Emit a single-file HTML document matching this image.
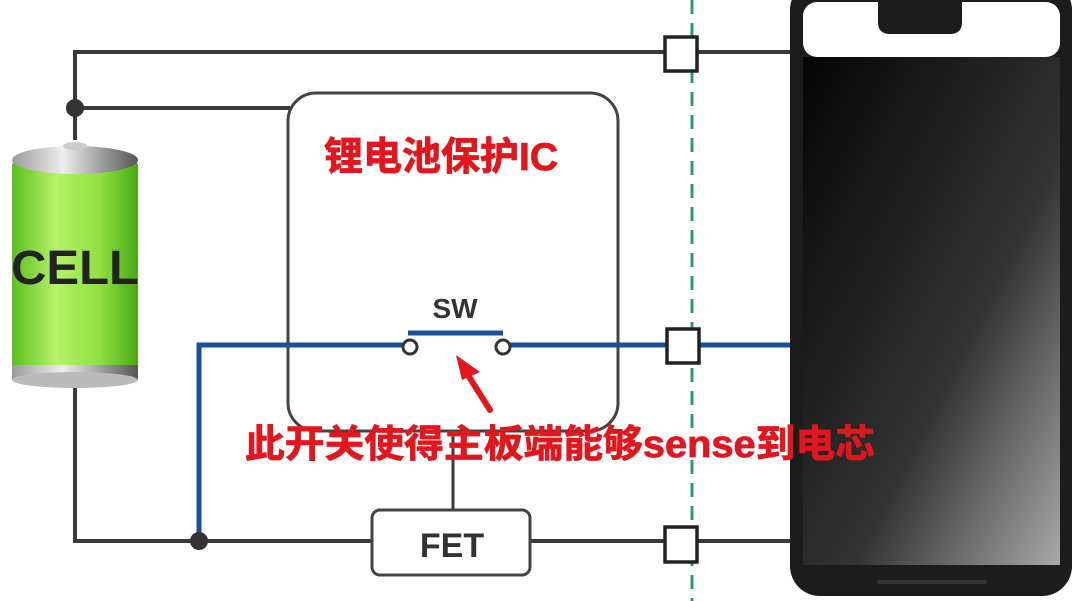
<!DOCTYPE html>
<html><head><meta charset="utf-8"><style>
html,body{margin:0;padding:0;background:#fff;}
body{width:1080px;height:601px;overflow:hidden;position:relative;font-family:"Liberation Sans","Noto Sans CJK SC",sans-serif;}
</style></head><body>
<svg width="1080" height="601" viewBox="0 0 1080 601" style="position:absolute;left:0;top:0">
<defs>
<linearGradient id="scr" x1="0" y1="0" x2="1" y2="1">
<stop offset="0" stop-color="#050505"/><stop offset="0.6" stop-color="#333"/><stop offset="1" stop-color="#a8a8a8"/>
</linearGradient>
<linearGradient id="bat" x1="0" y1="0" x2="1" y2="0">
<stop offset="0" stop-color="#5cbf1e"/><stop offset="0.35" stop-color="#b6f26a"/><stop offset="0.7" stop-color="#8fe040"/><stop offset="1" stop-color="#4aa818"/>
</linearGradient>
<linearGradient id="cap" x1="0" y1="0" x2="1" y2="0">
<stop offset="0" stop-color="#9a9a9a"/><stop offset="0.4" stop-color="#eee"/><stop offset="1" stop-color="#555"/>
</linearGradient>
</defs>
<line x1="692" y1="0" x2="692" y2="601" stroke="#2f9a6a" stroke-width="3" stroke-dasharray="14,9"/>
<g stroke="#3a3a3a" stroke-width="4" fill="none">
<polyline points="75,140 75,52 790,52"/>
<line x1="75" y1="108" x2="290" y2="108"/>
<polyline points="75,385 75,541 372,541"/>
<line x1="530" y1="541" x2="790" y2="541"/>
<line x1="453" y1="430" x2="453" y2="510" stroke-width="3"/>
</g>
<circle cx="75" cy="108" r="9" fill="#333"/>
<rect x="288" y="93" width="330" height="338" rx="28" fill="none" stroke="#444" stroke-width="3"/>
<g stroke="#1a4f9c" stroke-width="5" fill="none">
<polyline points="199,541 199,345 403,345"/>
<line x1="510" y1="345" x2="790" y2="345"/>
<line x1="408" y1="333" x2="503" y2="333"/>
</g>
<circle cx="410" cy="347" r="7" fill="#fff" stroke="#333" stroke-width="3"/>
<circle cx="503" cy="347" r="7" fill="#fff" stroke="#333" stroke-width="3"/>
<circle cx="199" cy="541" r="9" fill="#333"/>
<text x="455" y="318" text-anchor="middle" font-size="28" font-weight="bold" fill="#333">SW</text>
<rect x="372" y="510" width="158" height="65" rx="8" fill="#fff" stroke="#444" stroke-width="3"/>
<text x="452" y="557" text-anchor="middle" font-size="34" font-weight="bold" fill="#333">FET</text>
<g fill="#fff" stroke="#222" stroke-width="3.5">
<rect x="665" y="37" width="32" height="34"/>
<rect x="667" y="329" width="32" height="34"/>
<rect x="665" y="527" width="32" height="35"/>
</g>
<rect x="12" y="160" width="126" height="215" rx="6" fill="url(#bat)"/>
<ellipse cx="75" cy="160" rx="63" ry="14" fill="url(#cap)"/>
<rect x="12" y="365" width="126" height="15" fill="url(#cap)"/>
<ellipse cx="75" cy="380" rx="63" ry="8" fill="#bbb"/>
<ellipse cx="75" cy="146" rx="12" ry="4" fill="#ccc"/>
<text x="75" y="284" text-anchor="middle" font-size="48" font-weight="bold" fill="#222" textLength="128" lengthAdjust="spacingAndGlyphs">CELL</text>
<rect x="790" y="-20" width="282" height="616" rx="30" fill="#1c1c1c"/>
<rect x="803" y="2" width="257" height="55" rx="14" fill="#fff"/>
<rect x="803" y="57" width="257" height="508" fill="url(#scr)"/>
<path d="M878 0 H962 V22 Q962 34 950 34 H890 Q878 34 878 22 Z" fill="#1c1c1c"/>
<rect x="877" y="580" width="110" height="4" rx="2" fill="#333"/>
<text x="324" y="170" font-size="39" font-weight="bold" fill="#e3161e" stroke="#e3161e" stroke-width="0.8" font-family="Liberation Sans,Noto Sans CJK SC,sans-serif">锂电池保护IC</text>
<text x="245" y="457" font-size="38" font-weight="bold" fill="#e3161e" stroke="#e3161e" stroke-width="0.8" font-family="Liberation Sans,Noto Sans CJK SC,sans-serif" textLength="630" lengthAdjust="spacingAndGlyphs">此开关使得主板端能够sense到电芯</text>
<line x1="490" y1="410" x2="466" y2="372" stroke="#e3161e" stroke-width="6" stroke-linecap="round"/>
<polygon points="456,355 480,372 462,380" fill="#e3161e"/>
</svg>
</body></html>
